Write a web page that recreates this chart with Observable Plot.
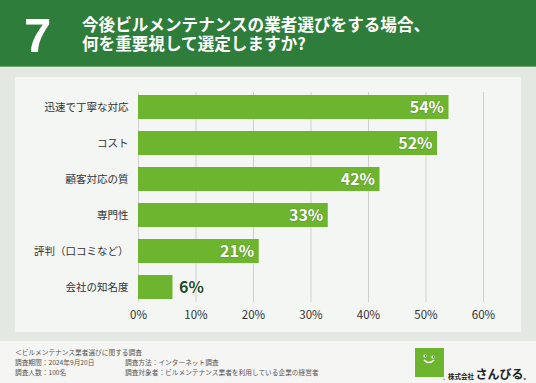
<!DOCTYPE html>
<html><head><meta charset="utf-8">
<script src="https://cdn.jsdelivr.net/npm/d3@7"></script>
<script src="https://cdn.jsdelivr.net/npm/@observablehq/plot@0.6"></script>
<style>
html,body{margin:0;padding:0;}
body{width:536px;height:383px;position:relative;overflow:hidden;background:#f5f6f4;font-family:"Noto Sans CJK JP","Noto Sans",sans-serif;}
#header{position:absolute;left:0;top:0;width:536px;height:66px;background:#2e7d3a;border-bottom:1px solid #6fa36f;}
#num{position:absolute;left:24px;top:7px;font-family:"Liberation Sans",Arial,sans-serif;font-weight:700;font-size:49px;color:#fff;line-height:normal;}
.tl{position:absolute;left:82px;font-weight:700;font-size:16.6px;line-height:18px;height:18px;color:#fff;white-space:nowrap;}
#outer{position:absolute;left:0;top:67px;width:536px;height:274px;background:#e3e8e2;}
#panel{position:absolute;left:15px;top:77px;width:506px;height:255px;background:#f4f6f3;}
#chart{position:absolute;left:0;top:77px;}
.foot{position:absolute;top:347px;font-size:6.7px;line-height:10px;color:#555;white-space:nowrap;}
#logo{position:absolute;left:415px;top:348px;width:29px;height:29px;background:#6db52e;}
#brand{position:absolute;left:443px;top:360px;white-space:nowrap;color:#222;font-weight:700;line-height:normal;}
</style></head>
<body>
<div id="header"><div id="num">7</div>
<div class="tl" style="top:15px">今後ビルメンテナンスの業者選びをする場合、</div>
<div class="tl" style="top:33.5px">何を重要視して選定しますか?</div></div>
<div id="outer"></div>
<div id="panel"></div>
<div id="chart"></div>
<div class="foot" style="left:15px">＜ビルメンテナンス業者選びに関する調査<br>調査期間：2024年9月20日<br>調査人数：100名</div>
<div class="foot" style="left:125px;top:357px">調査方法：インターネット調査<br>調査対象者：ビルメンテナンス業者を利用している企業の経営者</div>
<div id="logo"><svg width="29" height="29"><circle cx="10" cy="8" r="1.6" fill="#fff"/><circle cx="18" cy="9" r="1.6" fill="#fff"/><circle cx="10.4" cy="8" r="0.8" fill="#234"/><circle cx="18.4" cy="9" r="0.8" fill="#234"/><path d="M9 12 Q14 17 19 12" stroke="#fff" stroke-width="1.5" fill="none"/></svg></div>
<div id="brand"><span style="font-size:5px">。</span><span style="font-size:6.5px">株式会社 </span><span style="font-size:12px">さんびる</span><span style="font-size:6px">。</span></div>
<script>
const categories = ["迅速で丁寧な対応","コスト","顧客対応の質","専門性","評判（口コミなど）","会社の知名度"];
const values = [54,52,42,33,21,6];
const xTicks = [0,10,20,30,40,50,60];

const data = categories.map((c,i)=>({category:c, value:values[i]}));
const chart = Plot.plot({
  width:536, height:255,
  marginLeft:138, marginRight:53, marginTop:15, marginBottom:30,
  style:{background:"transparent", fontFamily:"'Noto Sans CJK JP', sans-serif"},
  x:{domain:[0,60]},
  y:{domain:categories, paddingInner:0.324, paddingOuter:0},
  marks:[
    Plot.gridX(xTicks,{stroke:"#cfcfcf", strokeOpacity:1, strokeWidth:1}),
    Plot.barX(data,{x:"value", y:"category", fill:"#6db52e"}),
    Plot.text(data.filter(d=>d.value>=10),{x:"value", y:"category", text:d=>d.value+"%", textAnchor:"end", dx:-5, fill:"#fff", stroke:"#3d6e1c", strokeWidth:1, strokeOpacity:0.5, fontSize:16, fontWeight:"bold"}),
    Plot.text(data.filter(d=>d.value<10),{x:"value", y:"category", text:d=>d.value+"%", textAnchor:"start", dx:6, fill:"#1f4d1f", stroke:"#ffffff", strokeWidth:1.5, fontSize:16, fontWeight:"bold"}),
    Plot.axisY({tickSize:0, tickPadding:10, fontSize:10.5, color:"#333", label:null}),
    Plot.axisX(xTicks,{tickSize:0, tickPadding:8, fontSize:11.5, color:"#333", tickFormat:d=>d+"%", label:null})
  ]
});
document.getElementById("chart").appendChild(chart);
</script>
</body></html>
